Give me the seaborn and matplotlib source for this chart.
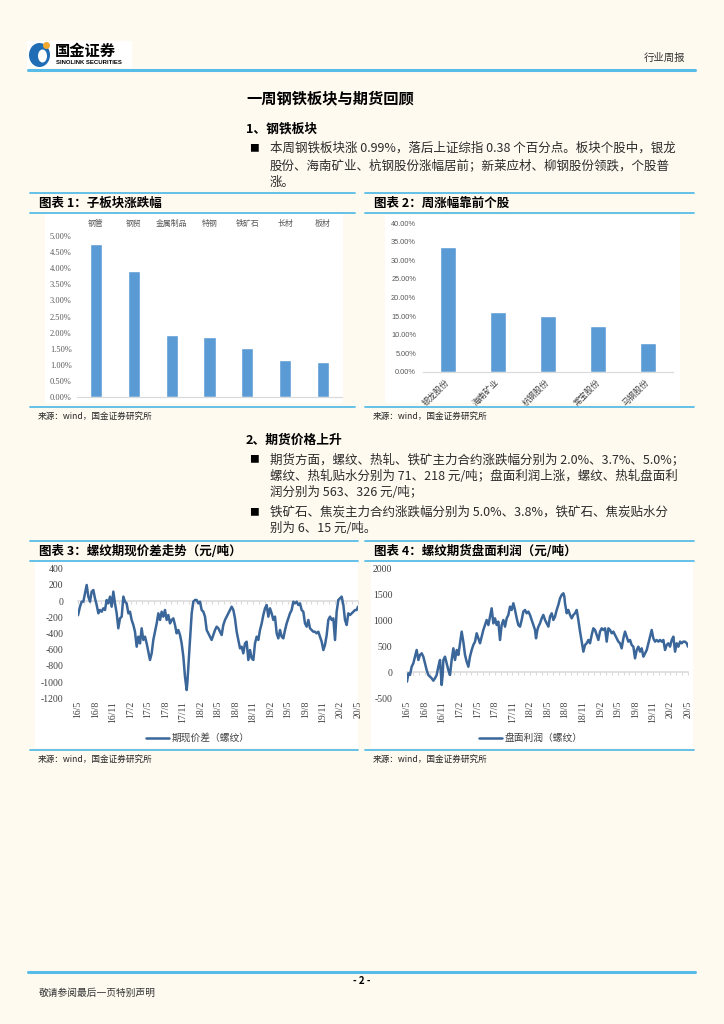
import matplotlib
matplotlib.use('Agg')
import matplotlib.pyplot as plt
import seaborn as sns
import numpy as np
from matplotlib.patches import Rectangle, Ellipse
from matplotlib.lines import Line2D

# ---------------- data ----------------
sub_cats = ['钢管', '钢贸', '金属制品', '特钢', '铁矿石', '长材', '板材']
sub_vals = [4.76, 3.92, 1.91, 1.87, 1.52, 1.15, 1.10]

stock_cats = ['银龙股份', '海南矿业', '杭钢股份', '常宝股份', '马钢股份']
stock_vals = [33.5, 16.0, 15.0, 12.4, 7.8]

month_ticks = list(range(0, 49, 3))
month_labels = ['16/5', '16/8', '16/11', '17/2', '17/5', '17/8', '17/11', '18/2', '18/5',
                '18/8', '18/11', '19/2', '19/5', '19/8', '19/11', '20/2', '20/5']

# months since 2016-05
spread_m = [0.0, 0.34, 0.63, 0.91, 1.2, 1.49, 1.77, 2.06, 2.34, 2.63, 2.91, 3.2, 3.49, 3.77, 4.06,
            4.34, 4.63, 4.91, 5.2, 5.49, 5.77, 6.06, 6.34, 6.63, 6.91, 7.2, 7.49, 7.77, 8.06, 8.34,
            8.63, 8.91, 9.2, 9.49, 9.77, 10.06, 10.34, 10.63, 10.91, 11.2, 11.49, 11.77, 12.06,
            12.34, 12.63, 12.91, 13.2, 13.49, 13.77, 14.06, 14.34, 14.63, 14.91, 15.2, 15.49,
            15.77, 16.06, 16.34, 16.63, 16.91, 17.2, 17.49, 17.77, 18.06, 18.34, 18.63, 18.74,
            18.91, 19.2, 19.49, 19.77, 20.06, 20.34, 20.63, 20.91, 21.2, 21.49, 21.77, 22.06,
            22.34, 22.63, 22.91, 23.2, 23.49, 23.77, 24.06, 24.34, 24.63, 24.91, 25.2, 25.49,
            25.77, 26.06, 26.34, 26.63, 26.91, 27.2, 27.49, 27.77, 28.06, 28.34, 28.63, 28.91,
            29.2, 29.49, 29.77, 30.06, 30.34, 30.63, 30.91, 31.2, 31.49, 31.77, 32.06, 32.34,
            32.63, 32.91, 33.2, 33.49, 33.77, 34.06, 34.34, 34.63, 34.91, 35.2, 35.49, 35.77,
            36.06, 36.34, 36.63, 36.91, 37.2, 37.49, 37.77, 38.06, 38.34, 38.63, 38.91, 39.2,
            39.49, 39.77, 40.06, 40.34, 40.63, 40.91, 41.2, 41.49, 41.77, 42.06, 42.34, 42.63,
            42.91, 43.2, 43.49, 43.77, 44.06, 44.23, 44.34, 44.63, 44.91, 45.2, 45.49, 45.77,
            46.06, 46.34, 46.63, 46.91, 47.2, 47.49, 47.77, 48.0]
spread_v = [-175, -69, -7, -7, 96, 199, 55, -7, 117, 137, 34, -48, -151, -110, -131,
            -89, -110, 14, -28, 55, -69, 117, -28, -151, -336, -213, -192, 55, -7, -28,
            -151, -131, -233, -295, -378, -563, -439, -522, -336, -480, -439, -522, -625,
            -727, -645, -480, -378, -275, -151, -233, -131, -192, -110, -233, -172,
            -275, -233, -213, -295, -398, -357, -419, -522, -686, -933, -1098, -1015,
            -810, -480, -151, -7, 14, 14, -28, -7, -110, -131, -192, -357,
            -398, -439, -480, -419, -357, -316, -336, -378, -419, -295, -233, -192,
            -151, -110, -69, -110, -213, -378, -480, -583, -563, -645, -522, -501,
            -727, -604, -707, -727, -522, -439, -480, -357, -275, -172, -89, -48,
            -192, -89, -151, -233, -192, -398, -460, -357, -439, -460, -357, -275,
            -213, -151, -110, -7, -28, -7, -48, -28, -110, -131, -275, -316,
            -233, -336, -357, -378, -378, -398, -378, -439, -501, -604, -542, -419,
            -233, -192, -233, -213, -480, -275, -131, 14, 34, 55, -48, -233,
            -295, -151, -172, -151, -131, -110, -110, -69]

profit_m = [0.0, 0.23, 0.51, 0.80, 1.08, 1.37, 1.65, 1.94, 2.22, 2.51, 2.79, 3.08, 3.36, 3.64,
            3.93, 4.21, 4.50, 4.78, 5.07, 5.35, 5.64, 5.92, 6.09, 6.21, 6.49, 6.78, 7.06, 7.35,
            7.63, 7.92, 8.20, 8.49, 8.77, 9.05, 9.34, 9.62, 9.91, 10.19, 10.48, 10.76, 11.05,
            11.33, 11.62, 11.90, 12.19, 12.47, 12.76, 13.04, 13.33, 13.61, 13.90, 14.18, 14.46,
            14.75, 15.03, 15.32, 15.60, 15.89, 16.17, 16.46, 16.74, 17.03, 17.31, 17.60, 17.88,
            18.17, 18.45, 18.74, 19.02, 19.31, 19.59, 19.87, 20.16, 20.44, 20.73, 21.01, 21.30,
            21.58, 21.87, 22.04, 22.27, 22.44, 22.72, 23.01, 23.29, 23.58, 23.86, 24.15, 24.43,
            24.72, 25.00, 25.28, 25.57, 25.85, 26.14, 26.42, 26.71, 26.88, 26.99, 27.28, 27.56,
            27.85, 28.13, 28.42, 28.70, 28.99, 29.27, 29.56, 29.84, 30.13, 30.41, 30.69, 30.98,
            31.26, 31.55, 31.83, 32.12, 32.40, 32.69, 32.97, 33.26, 33.54, 33.83, 34.11, 34.40,
            34.68, 34.97, 35.25, 35.54, 35.82, 36.10, 36.39, 36.67, 36.96, 37.24, 37.53, 37.81,
            38.10, 38.38, 38.67, 38.95, 39.24, 39.52, 39.81, 40.09, 40.38, 40.66, 40.95, 41.23,
            41.51, 41.80, 42.08, 42.37, 42.65, 42.94, 43.22, 43.51, 43.79, 44.08, 44.36, 44.65,
            44.93, 45.22, 45.50, 45.79, 46.07, 46.36, 46.64, 46.92, 47.21, 47.49, 47.79, 48.0]
profit_v = [-179, -18, -50, 110, 175, 303, 432, 239, 336, 368, 303, 175, 46, -50,
            -82, -114, -160, -114, -50, 110, 239, -243, -50, 239, 303, 175, 46, -50,
            239, 464, 239, 432, 336, 561, 786, 593, 336, 207, 110, 303, 432,
            529, 593, 754, 657, 561, 689, 818, 914, 1011, 914, 1076, 1236,
            946, 1043, 914, 979, 625, 914, 1011, 882, 1043, 1108, 1269, 1204,
            1333, 1204, 1043, 914, 882, 1011, 1172, 1204, 1140, 1172, 1108, 1011,
            914, 818, 657, 818, 882, 946, 1043, 1108, 1011, 946, 882, 1075,
            1140, 1011, 1075, 1204, 1301, 1429, 1494, 1526, 1462, 1333, 1140, 1204,
            1108, 1043, 1108, 1140, 1204, 1011, 786, 593, 400, 529, 561, 625,
            561, 722, 850, 818, 722, 625, 786, 850, 818, 850, 593, 850,
            818, 754, 786, 722, 657, 593, 561, 464, 657, 786, 689, 593,
            625, 529, 496, 271, 432, 496, 400, 464, 303, 368, 432, 561,
            689, 818, 657, 593, 625, 593, 625, 593, 625, 432, 529, 561,
            496, 625, 689, 400, 561, 496, 593, 561, 593, 593, 561, 496]

# ---------------- style ----------------
W, H = 724, 1024
PAGE = '#FFFAF0'
BLUE_LINE = '#58BCE8'
BAR = '#5B9BD5'
LINE = '#3A6699'

sns.set_style('white')
plt.rcParams['font.family'] = ['Noto Sans CJK SC', 'DejaVu Sans']
plt.rcParams['axes.unicode_minus'] = False

fig = plt.figure(figsize=(7.24, 10.24), dpi=100, facecolor=PAGE)


def rect_px(x0, y0, x1, y1):
    return [x0 / W, 1 - y1 / H, (x1 - x0) / W, (y1 - y0) / H]


def hline(x0, x1, y, color=BLUE_LINE, lw=1.3):
    fig.add_artist(Line2D([x0 / W, x1 / W], [1 - y / H, 1 - y / H],
                          transform=fig.transFigure, color=color, lw=lw))


def box(x0, y0, x1, y1, color='white'):
    fig.add_artist(Rectangle((x0 / W, 1 - y1 / H), (x1 - x0) / W, (y1 - y0) / H,
                             transform=fig.transFigure, facecolor=color,
                             edgecolor='none', zorder=0))


def txt(x, y, s, **kw):
    kw.setdefault('va', 'center')
    fig.text(x / W, 1 - y / H, s, **kw)


# ---------------- header ----------------
box(27, 41, 132, 68)
fig.add_artist(Ellipse((39.5 / W, 1 - 55 / H), 21 / W, 24 / H, transform=fig.transFigure,
                       facecolor='#1F6DB5', edgecolor='none'))
fig.add_artist(Ellipse((42.5 / W, 1 - 56 / H), 9 / W, 13 / H, transform=fig.transFigure,
                       facecolor='white', edgecolor='none'))
fig.add_artist(Ellipse((46.5 / W, 1 - 45.5 / H), 7 / W, 7 / H, transform=fig.transFigure,
                       facecolor='#F0A830', edgecolor='none'))
txt(55, 51, '国金证券', fontsize=11, fontweight='bold', color='black')
txt(56, 62, 'SINOLINK SECURITIES', fontsize=4.3, fontweight='bold', color='black',
    family=['Liberation Sans'])
txt(644, 58, '行业周报', fontsize=7.5, color='#333333')
hline(28, 695, 70, lw=2.2)

# ---------------- section 1 text ----------------
BODY = '#2b2b2b'
txt(246, 98.5, '一周钢铁板块与期货回顾', fontsize=11, fontweight='bold', color='black')
txt(246, 129.5, '1、钢铁板块', fontsize=9.2, fontweight='bold', color='black')
txt(249, 148.5, '■', fontsize=7, color='black')
txt(270, 148.5, '本周钢铁板块涨 0.99%，落后上证综指 0.38 个百分点。板块个股中，银龙',
    fontsize=9, color=BODY)
txt(270, 166, '股份、海南矿业、杭钢股份涨幅居前；新莱应材、柳钢股份领跌，个股普',
    fontsize=9, color=BODY)
txt(270, 182, '涨。', fontsize=9, color=BODY)

# ---------------- panels ----------------
def panel(x0, x1, ytop, ytitle, ybot, title, white):
    box(*white)
    hline(x0, x1, ytop)
    hline(x0, x1, ytitle)
    hline(x0, x1, ybot)
    txt(x0 + 9, (ytop + ytitle) / 2, title, fontsize=9, fontweight='bold', color='black')
    txt(x0 + 8, ybot + 9.5, '来源：wind，国金证券研究所', fontsize=6.2, color='#262626')


panel(30, 355, 193.3, 213.3, 407, '图表 1：子板块涨跌幅', (45, 214, 343, 403))
panel(365, 694, 193.3, 213.3, 407, '图表 2：周涨幅靠前个股', (385, 215, 680, 403))
panel(30, 358, 541.3, 561.3, 749.7, '图表 3：螺纹期现价差走势（元/吨）', (35, 562, 358, 748))
panel(365, 694, 541.3, 561.3, 749.7, '图表 4：螺纹期货盘面利润（元/吨）', (371, 562, 693, 748))

GRAYTXT = '#595959'

# chart 1
ax1 = fig.add_axes(rect_px(77, 236, 342, 397))
ax1.set_facecolor('white')
sns.barplot(x=sub_cats, y=sub_vals, color=BAR, saturation=1, width=0.32, ax=ax1)
ax1.set_ylim(0, 5)
yt1 = np.arange(0, 5.01, 0.5)
ax1.set_yticks(yt1)
ax1.set_yticklabels([f'{v:.2f}%' for v in yt1], family=['Liberation Serif'])
ax1.xaxis.tick_top()
ax1.tick_params(axis='x', length=0, pad=5.5, labelsize=5.7, labelcolor=GRAYTXT)
ax1.tick_params(axis='y', length=0, pad=3.8, labelsize=6, labelcolor=GRAYTXT)
for s in ['top', 'left', 'right']:
    ax1.spines[s].set_visible(False)
ax1.spines['bottom'].set_color('#D9D9D9')
ax1.spines['bottom'].set_linewidth(0.8)
ax1.set_xlabel('')
ax1.set_ylabel('')

# chart 2
ax2 = fig.add_axes(rect_px(423, 223, 673, 372))
ax2.set_facecolor('white')
sns.barplot(x=stock_cats, y=stock_vals, color=BAR, saturation=1, width=0.32, ax=ax2)
ax2.set_ylim(0, 40)
yt2 = np.arange(0, 40.01, 5)
ax2.set_yticks(yt2)
ax2.set_yticklabels([f'{v:.2f}%' for v in yt2], family=['Liberation Sans'])
ax2.tick_params(axis='y', length=0, pad=5, labelsize=5.3, labelcolor=GRAYTXT)
ax2.tick_params(axis='x', length=0, pad=6, labelsize=6, labelcolor='#404040')
for lab in ax2.get_xticklabels():
    lab.set_rotation(45)
    lab.set_ha('right')
    lab.set_va('center')
    lab.set_rotation_mode('anchor')
for s in ['top', 'left', 'right']:
    ax2.spines[s].set_visible(False)
ax2.spines['bottom'].set_color('#D9D9D9')
ax2.spines['bottom'].set_linewidth(0.8)
ax2.set_xlabel('')
ax2.set_ylabel('')


def line_chart(rect, xs, ys, ylim, ystep, label, legend_xy):
    ax = fig.add_axes(rect_px(*rect))
    ax.set_facecolor('white')
    sns.lineplot(x=xs, y=ys, ax=ax, color=LINE, lw=1.8, label=label,
                 estimator=None, sort=False)
    ax.set_xlim(0, 48)
    ax.set_ylim(*ylim)
    ax.set_yticks(range(ylim[0], ylim[1] + 1, ystep))
    ax.set_yticklabels([str(v) for v in range(ylim[0], ylim[1] + 1, ystep)],
                       family=['Liberation Serif'])
    ax.set_xticks(month_ticks)
    ax.set_xticklabels(month_labels, rotation=90, family=['Liberation Serif'])
    ax.tick_params(axis='x', length=0, pad=2, labelsize=7, labelcolor='#404040')
    ax.tick_params(axis='y', length=0, pad=10.5, labelsize=7, labelcolor='#404040')
    for s in ax.spines.values():
        s.set_visible(False)
    zero_frac = (0 - ylim[0]) / (ylim[1] - ylim[0])
    sec = ax.secondary_xaxis(zero_frac)
    sec.set_alignment('bottom')
    sec.set_xticks(range(0, 49))
    sec.tick_params(axis='x', length=2.2, width=0.8, color='#D9D9D9', direction='out',
                    labelbottom=False, labeltop=False)
    for k, s in sec.spines.items():
        s.set_visible(k == 'bottom')
    sec.spines['bottom'].set_color('#D9D9D9')
    sec.spines['bottom'].set_linewidth(1.1)
    sec.set_zorder(0)
    ax.set_xlabel('')
    ax.set_ylabel('')
    leg = ax.legend(loc='center', bbox_to_anchor=(legend_xy[0] / W, 1 - legend_xy[1] / H),
                    bbox_transform=fig.transFigure, frameon=False, fontsize=7,
                    handlelength=2.3, handletextpad=0.3)
    for t in leg.get_texts():
        t.set_color('#404040')
    return ax


line_chart((78, 568.7, 358, 698.3), spread_m, spread_v, (-1200, 400), 200,
           '期现价差（螺纹）', (198, 738))
line_chart((407, 568.7, 688, 698.3), profit_m, profit_v, (-500, 2000), 500,
           '盘面利润（螺纹）', (531, 738))

# ---------------- section 2 text ----------------
txt(246, 440, '2、期货价格上升', fontsize=9.2, fontweight='bold', color='black')
txt(249, 459.5, '■', fontsize=7, color='black')
txt(270, 459.5, '期货方面，螺纹、热轧、铁矿主力合约涨跌幅分别为 2.0%、3.7%、5.0%；',
    fontsize=9, color=BODY)
txt(270, 476, '螺纹、热轧贴水分别为 71、218 元/吨；盘面利润上涨，螺纹、热轧盘面利',
    fontsize=9, color=BODY)
txt(270, 492.7, '润分别为 563、326 元/吨；', fontsize=9, color=BODY)
txt(249, 512.3, '■', fontsize=7, color='black')
txt(270, 512.3, '铁矿石、焦炭主力合约涨跌幅分别为 5.0%、3.8%，铁矿石、焦炭贴水分',
    fontsize=9, color=BODY)
txt(270, 529, '别为 6、15 元/吨。', fontsize=9, color=BODY)

# ---------------- footer ----------------
hline(28, 695, 972, lw=2.2)
txt(362, 981, '- 2 -', fontsize=7, fontweight='bold', color='black', ha='center')
txt(39, 992.5, '敬请参阅最后一页特别声明', fontsize=7, color='#333333')

fig.savefig('out.png', dpi=100, facecolor=PAGE)
